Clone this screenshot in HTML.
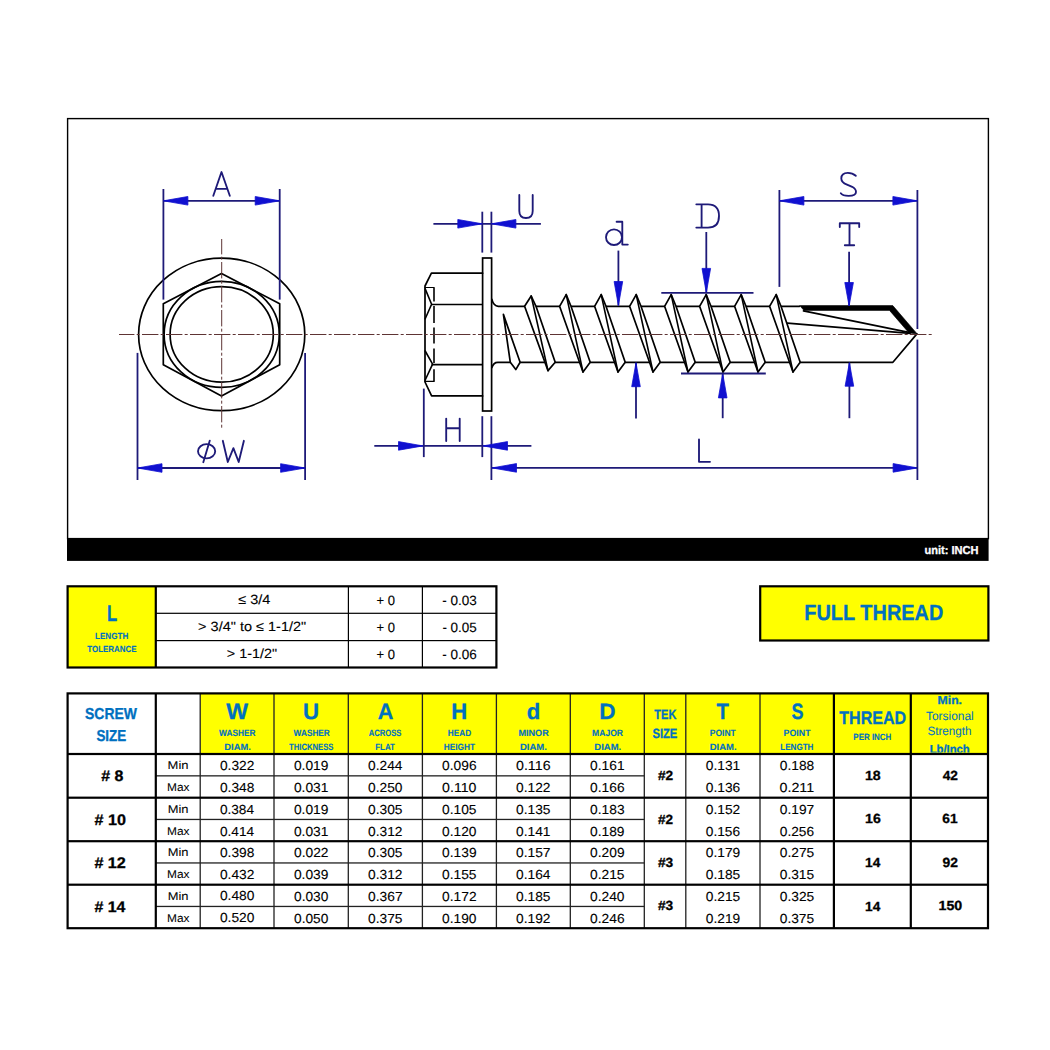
<!DOCTYPE html>
<html><head><meta charset="utf-8"><style>
html,body{margin:0;padding:0;background:#fff;width:1050px;height:1050px;overflow:hidden}
svg{position:absolute;left:0;top:0;display:block}
text{font-family:"Liberation Sans", sans-serif;text-rendering:geometricPrecision}
</style></head><body>
<svg width="1050" height="1050" viewBox="0 0 1050 1050">
<rect x="0" y="0" width="1050" height="1050" fill="#fff"/>
<rect x="67.6" y="118.6" width="920.8" height="420" fill="none" stroke="#000" stroke-width="1.4"/>
<rect x="67" y="538.3" width="921.6" height="22.6" fill="#000"/>
<ellipse cx="221.7" cy="334.4" rx="83.1" ry="76.3" fill="none" stroke="#000" stroke-width="1.7"/>
<polygon points="221.50,273.40 279.70,303.80 279.70,364.80 221.50,396.00 163.30,364.80 163.30,303.80" fill="none" stroke="#000" stroke-width="1.7" stroke-linejoin="round" />
<ellipse cx="221.7" cy="334.4" rx="57.6" ry="53.0" fill="none" stroke="#000" stroke-width="1.7"/>
<ellipse cx="221.7" cy="334.4" rx="51.6" ry="47.8" fill="none" stroke="#000" stroke-width="1.7"/>
<line x1="163.4" y1="189" x2="163.4" y2="299.6" stroke="#1e1a78" stroke-width="1.8" />
<line x1="279.7" y1="189" x2="279.7" y2="299.6" stroke="#1e1a78" stroke-width="1.8" />
<line x1="163.4" y1="200.8" x2="279.7" y2="200.8" stroke="#1e1a78" stroke-width="1.8" />
<polygon points="163.40,200.80 187.90,196.50 187.90,205.10" fill="#1010d0" stroke="#1010d0" stroke-width="0.8" stroke-linejoin="round" />
<polygon points="279.70,200.80 255.20,205.10 255.20,196.50" fill="#1010d0" stroke="#1010d0" stroke-width="0.8" stroke-linejoin="round" />
<line x1="137.5" y1="352.9" x2="137.5" y2="480" stroke="#1e1a78" stroke-width="1.8" />
<line x1="305.1" y1="352.9" x2="305.1" y2="480" stroke="#1e1a78" stroke-width="1.8" />
<line x1="137.5" y1="468" x2="305.1" y2="468" stroke="#1e1a78" stroke-width="1.8" />
<polygon points="137.50,468.00 162.00,463.70 162.00,472.30" fill="#1010d0" stroke="#1010d0" stroke-width="0.8" stroke-linejoin="round" />
<polygon points="305.10,468.00 280.60,472.30 280.60,463.70" fill="#1010d0" stroke="#1010d0" stroke-width="0.8" stroke-linejoin="round" />
<rect x="482.6" y="258" width="9.0" height="153" fill="#fff" stroke="#000" stroke-width="1.7"/>
<path d="M482.6,273.2 L431.4,273.2 L425,286 L425,382 L431.6,395.9 L482.6,395.9" fill="none" stroke="#000" stroke-width="1.7" stroke-linejoin="round" stroke-linecap="round" />
<line x1="431.4" y1="304.5" x2="482.6" y2="304.5" stroke="#000" stroke-width="1.7" />
<line x1="431.6" y1="364.7" x2="482.6" y2="364.7" stroke="#000" stroke-width="1.7" />
<path d="M425,287.5 L434,287.5" fill="none" stroke="#000" stroke-width="1.2" stroke-linejoin="round" stroke-linecap="round" />
<path d="M425,381.4 L434,381.4" fill="none" stroke="#000" stroke-width="1.2" stroke-linejoin="round" stroke-linecap="round" />
<line x1="434" y1="287.5" x2="434" y2="301.6" stroke="#000" stroke-width="1.6" />
<line x1="434" y1="306.1" x2="434" y2="322.9" stroke="#000" stroke-width="1.6" />
<line x1="434" y1="327.4" x2="434" y2="343.4" stroke="#000" stroke-width="1.6" />
<line x1="434" y1="348.6" x2="434" y2="363" stroke="#000" stroke-width="1.6" />
<line x1="434" y1="369.2" x2="434" y2="381.4" stroke="#000" stroke-width="1.6" />
<path d="M425.2,288.9 L431.6,304.3 L425.2,318.7" fill="none" stroke="#000" stroke-width="1.6" stroke-linejoin="round" stroke-linecap="round" />
<path d="M425.2,351 L432.6,364.2 L425.2,380" fill="none" stroke="#000" stroke-width="1.6" stroke-linejoin="round" stroke-linecap="round" />
<path d="M491.9,299.4 Q493.5,306 498.3,306.3 L799.4,306.3" fill="none" stroke="#000" stroke-width="1.7" stroke-linejoin="round" stroke-linecap="round" />
<path d="M491.9,367.6 Q493.5,362 498.3,362.3 L892.9,362.3 L916.9,333.9" fill="none" stroke="#000" stroke-width="1.7" stroke-linejoin="round" stroke-linecap="round" />
<polygon points="799.60,305.60 892.80,305.60 917.20,333.90 909.00,333.00 889.50,310.40 804.00,310.40" fill="#000" stroke="#000" stroke-width="0.6" stroke-linejoin="round" />
<path d="M803.5,310.8 L910,332.6" fill="none" stroke="#000" stroke-width="1.7" stroke-linejoin="round" stroke-linecap="round" />
<path d="M787.4,323.2 L910,333.4" fill="none" stroke="#000" stroke-width="1.7" stroke-linejoin="round" stroke-linecap="round" />
<polygon points="503.40,314.40 520.10,362.30 515.80,369.60 510.30,362.30" fill="#fff" stroke="#000" stroke-width="1.7" stroke-linejoin="round" />
<polygon points="524.60,306.30 531.20,296.00 536.00,306.30 555.20,362.30 548.00,370.60" fill="#fff" stroke="#000" stroke-width="1.7" stroke-linejoin="round" />
<path d="M531.2,296.0 L548.0,370.6" fill="none" stroke="#000" stroke-width="1.6" stroke-linejoin="round" stroke-linecap="round" />
<polygon points="559.60,306.30 566.20,294.60 571.00,306.30 590.20,362.30 583.00,372.00" fill="#fff" stroke="#000" stroke-width="1.7" stroke-linejoin="round" />
<path d="M566.2,294.6 L583.0,372.0" fill="none" stroke="#000" stroke-width="1.6" stroke-linejoin="round" stroke-linecap="round" />
<polygon points="594.60,306.30 601.20,294.60 606.00,306.30 625.20,362.30 618.00,372.00" fill="#fff" stroke="#000" stroke-width="1.7" stroke-linejoin="round" />
<path d="M601.2,294.6 L618.0,372.0" fill="none" stroke="#000" stroke-width="1.6" stroke-linejoin="round" stroke-linecap="round" />
<polygon points="629.60,306.30 636.20,294.60 641.00,306.30 660.20,362.30 653.00,372.00" fill="#fff" stroke="#000" stroke-width="1.7" stroke-linejoin="round" />
<path d="M636.2,294.6 L653.0,372.0" fill="none" stroke="#000" stroke-width="1.6" stroke-linejoin="round" stroke-linecap="round" />
<polygon points="664.60,306.30 671.20,294.60 676.00,306.30 695.20,362.30 688.00,372.00" fill="#fff" stroke="#000" stroke-width="1.7" stroke-linejoin="round" />
<path d="M671.2,294.6 L688.0,372.0" fill="none" stroke="#000" stroke-width="1.6" stroke-linejoin="round" stroke-linecap="round" />
<polygon points="699.60,306.30 706.20,294.60 711.00,306.30 730.20,362.30 723.00,372.00" fill="#fff" stroke="#000" stroke-width="1.7" stroke-linejoin="round" />
<path d="M706.2,294.6 L723.0,372.0" fill="none" stroke="#000" stroke-width="1.6" stroke-linejoin="round" stroke-linecap="round" />
<polygon points="734.60,306.30 741.20,294.60 746.00,306.30 765.20,362.30 758.00,372.00" fill="#fff" stroke="#000" stroke-width="1.7" stroke-linejoin="round" />
<path d="M741.2,294.6 L758.0,372.0" fill="none" stroke="#000" stroke-width="1.6" stroke-linejoin="round" stroke-linecap="round" />
<polygon points="769.60,306.30 776.20,294.60 781.00,306.30 800.20,362.30 793.00,372.00" fill="#fff" stroke="#000" stroke-width="1.7" stroke-linejoin="round" />
<path d="M776.2,294.6 L793.0,372.0" fill="none" stroke="#000" stroke-width="1.6" stroke-linejoin="round" stroke-linecap="round" />
<line x1="482.3" y1="211.7" x2="482.3" y2="252.6" stroke="#1e1a78" stroke-width="1.8" />
<line x1="491.4" y1="211.7" x2="491.4" y2="252.6" stroke="#1e1a78" stroke-width="1.8" />
<line x1="433.4" y1="223.8" x2="540.9" y2="223.8" stroke="#1e1a78" stroke-width="1.8" />
<polygon points="482.30,223.80 457.80,228.10 457.80,219.50" fill="#1010d0" stroke="#1010d0" stroke-width="0.8" stroke-linejoin="round" />
<polygon points="491.40,223.80 515.90,219.50 515.90,228.10" fill="#1010d0" stroke="#1010d0" stroke-width="0.8" stroke-linejoin="round" />
<line x1="423.8" y1="388.6" x2="423.8" y2="457.1" stroke="#1e1a78" stroke-width="1.8" />
<line x1="482.3" y1="416.2" x2="482.3" y2="457.1" stroke="#1e1a78" stroke-width="1.8" />
<line x1="491.4" y1="416.2" x2="491.4" y2="480" stroke="#1e1a78" stroke-width="1.8" />
<line x1="374.3" y1="445.9" x2="531.4" y2="445.9" stroke="#1e1a78" stroke-width="1.8" />
<polygon points="423.00,445.90 398.50,450.20 398.50,441.60" fill="#1010d0" stroke="#1010d0" stroke-width="0.8" stroke-linejoin="round" />
<polygon points="483.00,445.90 507.50,441.60 507.50,450.20" fill="#1010d0" stroke="#1010d0" stroke-width="0.8" stroke-linejoin="round" />
<line x1="491.4" y1="467.9" x2="917.6" y2="467.9" stroke="#1e1a78" stroke-width="1.8" />
<polygon points="492.00,467.90 516.50,463.60 516.50,472.20" fill="#1010d0" stroke="#1010d0" stroke-width="0.8" stroke-linejoin="round" />
<polygon points="917.60,467.90 893.10,472.20 893.10,463.60" fill="#1010d0" stroke="#1010d0" stroke-width="0.8" stroke-linejoin="round" />
<line x1="917.4" y1="190" x2="917.4" y2="329" stroke="#1e1a78" stroke-width="1.8" />
<line x1="917.4" y1="339.6" x2="917.4" y2="480" stroke="#1e1a78" stroke-width="1.8" />
<line x1="779.4" y1="190" x2="779.4" y2="286.9" stroke="#1e1a78" stroke-width="1.8" />
<line x1="779.4" y1="200.8" x2="917.4" y2="200.8" stroke="#1e1a78" stroke-width="1.8" />
<polygon points="779.40,200.80 803.90,196.50 803.90,205.10" fill="#1010d0" stroke="#1010d0" stroke-width="0.8" stroke-linejoin="round" />
<polygon points="917.40,200.80 892.90,205.10 892.90,196.50" fill="#1010d0" stroke="#1010d0" stroke-width="0.8" stroke-linejoin="round" />
<line x1="849.1" y1="251.7" x2="849.1" y2="306" stroke="#1e1a78" stroke-width="1.8" />
<polygon points="849.10,306.00 844.80,282.50 853.40,282.50" fill="#1010d0" stroke="#1010d0" stroke-width="0.8" stroke-linejoin="round" />
<line x1="849.4" y1="362.7" x2="849.4" y2="418.2" stroke="#1e1a78" stroke-width="1.8" />
<polygon points="849.40,362.70 853.70,386.20 845.10,386.20" fill="#1010d0" stroke="#1010d0" stroke-width="0.8" stroke-linejoin="round" />
<line x1="618.4" y1="250.6" x2="618.4" y2="305.5" stroke="#1e1a78" stroke-width="1.8" />
<polygon points="618.40,305.50 614.10,281.50 622.70,281.50" fill="#1010d0" stroke="#1010d0" stroke-width="0.8" stroke-linejoin="round" />
<line x1="636.0" y1="362.7" x2="636.0" y2="418.6" stroke="#1e1a78" stroke-width="1.8" />
<polygon points="636.00,362.70 640.30,386.70 631.70,386.70" fill="#1010d0" stroke="#1010d0" stroke-width="0.8" stroke-linejoin="round" />
<line x1="706.3" y1="232" x2="706.3" y2="292.8" stroke="#1e1a78" stroke-width="1.8" />
<polygon points="706.30,292.80 702.00,268.40 710.60,268.40" fill="#1010d0" stroke="#1010d0" stroke-width="0.8" stroke-linejoin="round" />
<line x1="661.3" y1="292.8" x2="753.5" y2="292.8" stroke="#1e1a78" stroke-width="1.8" />
<line x1="722.7" y1="373.5" x2="722.7" y2="418.2" stroke="#1e1a78" stroke-width="1.8" />
<polygon points="722.70,373.50 727.00,397.90 718.40,397.90" fill="#1010d0" stroke="#1010d0" stroke-width="0.8" stroke-linejoin="round" />
<line x1="681.0" y1="373.5" x2="765.8" y2="373.5" stroke="#1e1a78" stroke-width="1.8" />
<path d="M213.3,195.8 L221.5,172 L229.8,195.8 M216.6,188.8 L226.4,188.8" fill="none" stroke="#1e1a78" stroke-width="1.85" stroke-linejoin="round" stroke-linecap="round" />
<path d="M519.3,195 L519.3,211 Q519.3,218 526,218 Q532.7,218 532.7,211 L532.7,195" fill="none" stroke="#1e1a78" stroke-width="1.85" stroke-linejoin="round" stroke-linecap="round" />
<path d="M446.2,418.6 L446.2,441 M459.7,418.6 L459.7,441 M446.2,428.2 L459.7,428.2" fill="none" stroke="#1e1a78" stroke-width="1.85" stroke-linejoin="round" stroke-linecap="round" />
<path d="M699,439.5 L699,461.8 L710,461.8" fill="none" stroke="#1e1a78" stroke-width="1.85" stroke-linejoin="round" stroke-linecap="round" />
<path d="M855.8,175.8 Q852.5,172.8 847.8,172.8 Q841.3,172.8 841.3,178.4 Q841.3,182.3 847,184.6 L852.2,186.8 Q856,188.8 856,192 Q856,195.8 848.6,195.8 Q842.6,195.8 840.8,193.2" fill="none" stroke="#1e1a78" stroke-width="1.85" stroke-linejoin="round" stroke-linecap="round" />
<path d="M839.8,227 L839.8,223.2 L859.2,223.2 L859.2,227 M849.5,223.2 L849.5,245.2 M844.8,245.2 L854.2,245.2" fill="none" stroke="#1e1a78" stroke-width="1.85" stroke-linejoin="round" stroke-linecap="round" />
<path d="M616.6,221.7 L622.3,221.7 L622.3,244.6 L627.8,244.6" fill="none" stroke="#1e1a78" stroke-width="1.85" stroke-linejoin="round" stroke-linecap="round" />
<ellipse cx="614.0" cy="237.2" rx="8.0" ry="7.8" fill="none" stroke="#1e1a78" stroke-width="1.85"/>
<path d="M696.3,204.3 L708,204.3 Q719,204.3 719,216 Q719,227.6 708,227.6 L696.3,227.6 M701.6,204.3 L701.6,227.6" fill="none" stroke="#1e1a78" stroke-width="1.85" stroke-linejoin="round" stroke-linecap="round" />
<ellipse cx="206.6" cy="451.3" rx="8.6" ry="7.1" fill="none" stroke="#1e1a78" stroke-width="1.85"/>
<path d="M209.8,440.6 L203.3,462.2" fill="none" stroke="#1e1a78" stroke-width="1.85" stroke-linejoin="round" stroke-linecap="round" />
<path d="M222.8,440.8 L227.8,462 L233.4,448.2 L238.7,462 L243.9,440.8" fill="none" stroke="#1e1a78" stroke-width="1.85" stroke-linejoin="round" stroke-linecap="round" />
<line x1="119" y1="334.5" x2="933" y2="334.5" stroke="#5e3434" stroke-width="1.0" stroke-dasharray="16.4 2.3 3 2.3" stroke-dashoffset="1"/>
<line x1="221.7" y1="239" x2="221.7" y2="430" stroke="#5e3434" stroke-width="1.0" stroke-dasharray="16.4 2.3 3 2.3" stroke-dashoffset="1"/>
<rect x="67" y="586" width="89" height="82" fill="#ffff00"/>
<rect x="156" y="612.6999999999999" width="340" height="1.2" fill="#000"/>
<rect x="156" y="640.0" width="340" height="1.2" fill="#000"/>
<rect x="347.79999999999995" y="586" width="1.2" height="82" fill="#000"/>
<rect x="421.79999999999995" y="586" width="1.2" height="82" fill="#000"/>
<rect x="154.70000000000002" y="586" width="2.2" height="82" fill="#000"/>
<rect x="67.6" y="586.3" width="428.8" height="81.2" fill="none" stroke="#000" stroke-width="2.2"/>
<rect x="760.2" y="586.3" width="228.2" height="54.2" fill="#ffff00" stroke="#000" stroke-width="2.2"/>
<rect x="200.2" y="693.4" width="787.8" height="60.60000000000002" fill="#ffff00"/>
<rect x="155.8" y="775.2" width="488.49999999999994" height="1.3" fill="#222"/>
<rect x="155.8" y="818.8000000000001" width="488.49999999999994" height="1.3" fill="#222"/>
<rect x="155.8" y="862.3000000000001" width="488.49999999999994" height="1.3" fill="#222"/>
<rect x="155.8" y="905.8000000000001" width="488.49999999999994" height="1.3" fill="#222"/>
<rect x="199.54999999999998" y="693.4" width="1.3" height="234.80000000000007" fill="#222"/>
<rect x="273.35" y="693.4" width="1.3" height="234.80000000000007" fill="#222"/>
<rect x="347.65000000000003" y="693.4" width="1.3" height="234.80000000000007" fill="#222"/>
<rect x="421.75" y="693.4" width="1.3" height="234.80000000000007" fill="#222"/>
<rect x="495.75" y="693.4" width="1.3" height="234.80000000000007" fill="#222"/>
<rect x="569.65" y="693.4" width="1.3" height="234.80000000000007" fill="#222"/>
<rect x="643.65" y="693.4" width="1.3" height="234.80000000000007" fill="#222"/>
<rect x="685.15" y="693.4" width="1.3" height="234.80000000000007" fill="#222"/>
<rect x="759.35" y="693.4" width="1.3" height="234.80000000000007" fill="#222"/>
<rect x="154.70000000000002" y="693.4" width="2.2" height="234.80000000000007" fill="#000"/>
<rect x="832.8" y="693.4" width="2.2" height="234.80000000000007" fill="#000"/>
<rect x="909.6999999999999" y="693.4" width="2.2" height="234.80000000000007" fill="#000"/>
<rect x="67" y="752.9" width="921" height="2.2" fill="#000"/>
<rect x="67" y="796.6" width="921" height="2.2" fill="#000"/>
<rect x="67" y="840.1" width="921" height="2.2" fill="#000"/>
<rect x="67" y="883.6" width="921" height="2.2" fill="#000"/>
<rect x="67.6" y="693.4" width="920.4" height="234.80000000000007" fill="none" stroke="#000" stroke-width="2.2"/>
<clipPath id="hc"><rect x="911" y="694.5" width="77" height="58.1"/></clipPath>
<text x="951.45" y="554.00" font-size="11.59" font-weight="bold" fill="#fff" stroke="#fff" stroke-width="0.3" text-anchor="middle" textLength="53.99" lengthAdjust="spacingAndGlyphs">unit: INCH</text>
<text x="112.11" y="620.66" font-size="22.55" font-weight="bold" fill="#0070c0" stroke="#0070c0" stroke-width="0.3" text-anchor="middle" textLength="10.19" lengthAdjust="spacingAndGlyphs">L</text>
<text x="111.65" y="639.00" font-size="8.84" font-weight="bold" fill="#0070c0" stroke="#0070c0" stroke-width="0.12" text-anchor="middle" textLength="33.21" lengthAdjust="spacingAndGlyphs">LENGTH</text>
<text x="111.89" y="652.14" font-size="8.84" font-weight="bold" fill="#0070c0" stroke="#0070c0" stroke-width="0.12" text-anchor="middle" textLength="49.18" lengthAdjust="spacingAndGlyphs">TOLERANCE</text>
<text x="254.25" y="604.30" font-size="13.38" font-weight="normal" fill="#000" stroke="#000" stroke-width="0.12" text-anchor="middle" textLength="32.09" lengthAdjust="spacingAndGlyphs">≤ 3/4</text>
<text x="252.15" y="631.00" font-size="13.38" font-weight="normal" fill="#000" stroke="#000" stroke-width="0.12" text-anchor="middle" textLength="108.07" lengthAdjust="spacingAndGlyphs">&gt; 3/4" to ≤ 1-1/2"</text>
<text x="252.04" y="657.80" font-size="13.38" font-weight="normal" fill="#000" stroke="#000" stroke-width="0.12" text-anchor="middle" textLength="50.36" lengthAdjust="spacingAndGlyphs">&gt; 1-1/2"</text>
<text x="385.79" y="604.92" font-size="13.38" font-weight="normal" fill="#000" stroke="#000" stroke-width="0.12" text-anchor="middle" textLength="18.46" lengthAdjust="spacingAndGlyphs">+ 0</text>
<text x="459.56" y="605.03" font-size="13.38" font-weight="normal" fill="#000" stroke="#000" stroke-width="0.12" text-anchor="middle" textLength="34.49" lengthAdjust="spacingAndGlyphs">- 0.03</text>
<text x="385.79" y="631.58" font-size="13.38" font-weight="normal" fill="#000" stroke="#000" stroke-width="0.12" text-anchor="middle" textLength="18.46" lengthAdjust="spacingAndGlyphs">+ 0</text>
<text x="459.57" y="631.96" font-size="13.38" font-weight="normal" fill="#000" stroke="#000" stroke-width="0.12" text-anchor="middle" textLength="34.39" lengthAdjust="spacingAndGlyphs">- 0.05</text>
<text x="385.79" y="659.04" font-size="13.38" font-weight="normal" fill="#000" stroke="#000" stroke-width="0.12" text-anchor="middle" textLength="18.46" lengthAdjust="spacingAndGlyphs">+ 0</text>
<text x="459.56" y="658.67" font-size="13.38" font-weight="normal" fill="#000" stroke="#000" stroke-width="0.12" text-anchor="middle" textLength="34.50" lengthAdjust="spacingAndGlyphs">- 0.06</text>
<text x="873.84" y="620.40" font-size="21.98" font-weight="bold" fill="#0070c0" stroke="#0070c0" stroke-width="0.3" text-anchor="middle" textLength="139.00" lengthAdjust="spacingAndGlyphs">FULL THREAD</text>
<text x="111.05" y="718.88" font-size="15.85" font-weight="bold" fill="#0070c0" stroke="#0070c0" stroke-width="0.3" text-anchor="middle" textLength="51.96" lengthAdjust="spacingAndGlyphs">SCREW</text>
<text x="111.33" y="740.79" font-size="15.85" font-weight="bold" fill="#0070c0" stroke="#0070c0" stroke-width="0.3" text-anchor="middle" textLength="29.84" lengthAdjust="spacingAndGlyphs">SIZE</text>
<text x="237.05" y="718.64" font-size="22.19" font-weight="bold" fill="#0070c0" stroke="#0070c0" stroke-width="0.3" text-anchor="middle" textLength="21.81" lengthAdjust="spacingAndGlyphs">W</text>
<text x="310.98" y="718.52" font-size="22.19" font-weight="bold" fill="#0070c0" stroke="#0070c0" stroke-width="0.3" text-anchor="middle" textLength="16.07" lengthAdjust="spacingAndGlyphs">U</text>
<text x="385.51" y="718.96" font-size="22.19" font-weight="bold" fill="#0070c0" stroke="#0070c0" stroke-width="0.3" text-anchor="middle" textLength="15.66" lengthAdjust="spacingAndGlyphs">A</text>
<text x="459.26" y="718.80" font-size="22.19" font-weight="bold" fill="#0070c0" stroke="#0070c0" stroke-width="0.3" text-anchor="middle" textLength="15.97" lengthAdjust="spacingAndGlyphs">H</text>
<text x="533.58" y="718.71" font-size="22.19" font-weight="bold" fill="#0070c0" stroke="#0070c0" stroke-width="0.3" text-anchor="middle" textLength="13.54" lengthAdjust="spacingAndGlyphs">d</text>
<text x="607.32" y="718.64" font-size="22.19" font-weight="bold" fill="#0070c0" stroke="#0070c0" stroke-width="0.3" text-anchor="middle" textLength="16.28" lengthAdjust="spacingAndGlyphs">D</text>
<text x="722.64" y="718.64" font-size="22.19" font-weight="bold" fill="#0070c0" stroke="#0070c0" stroke-width="0.3" text-anchor="middle" textLength="12.44" lengthAdjust="spacingAndGlyphs">T</text>
<text x="797.40" y="718.64" font-size="22.19" font-weight="bold" fill="#0070c0" stroke="#0070c0" stroke-width="0.3" text-anchor="middle" textLength="12.02" lengthAdjust="spacingAndGlyphs">S</text>
<text x="237.23" y="736.26" font-size="9.15" font-weight="bold" fill="#0070c0" stroke="#0070c0" stroke-width="0.12" text-anchor="middle" textLength="36.34" lengthAdjust="spacingAndGlyphs">WASHER</text>
<text x="237.55" y="749.82" font-size="9.15" font-weight="bold" fill="#0070c0" stroke="#0070c0" stroke-width="0.12" text-anchor="middle" textLength="26.48" lengthAdjust="spacingAndGlyphs">DIAM.</text>
<text x="311.72" y="735.86" font-size="9.15" font-weight="bold" fill="#0070c0" stroke="#0070c0" stroke-width="0.12" text-anchor="middle" textLength="36.23" lengthAdjust="spacingAndGlyphs">WASHER</text>
<text x="311.22" y="749.82" font-size="9.15" font-weight="bold" fill="#0070c0" stroke="#0070c0" stroke-width="0.12" text-anchor="middle" textLength="44.35" lengthAdjust="spacingAndGlyphs">THICKNESS</text>
<text x="385.05" y="736.18" font-size="9.15" font-weight="bold" fill="#0070c0" stroke="#0070c0" stroke-width="0.12" text-anchor="middle" textLength="32.77" lengthAdjust="spacingAndGlyphs">ACROSS</text>
<text x="385.06" y="749.58" font-size="9.15" font-weight="bold" fill="#0070c0" stroke="#0070c0" stroke-width="0.12" text-anchor="middle" textLength="19.68" lengthAdjust="spacingAndGlyphs">FLAT</text>
<text x="459.40" y="736.42" font-size="9.15" font-weight="bold" fill="#0070c0" stroke="#0070c0" stroke-width="0.12" text-anchor="middle" textLength="23.39" lengthAdjust="spacingAndGlyphs">HEAD</text>
<text x="459.42" y="749.74" font-size="9.15" font-weight="bold" fill="#0070c0" stroke="#0070c0" stroke-width="0.12" text-anchor="middle" textLength="31.20" lengthAdjust="spacingAndGlyphs">HEIGHT</text>
<text x="533.57" y="736.26" font-size="9.15" font-weight="bold" fill="#0070c0" stroke="#0070c0" stroke-width="0.12" text-anchor="middle" textLength="30.35" lengthAdjust="spacingAndGlyphs">MINOR</text>
<text x="533.40" y="749.58" font-size="9.15" font-weight="bold" fill="#0070c0" stroke="#0070c0" stroke-width="0.12" text-anchor="middle" textLength="26.95" lengthAdjust="spacingAndGlyphs">DIAM.</text>
<text x="607.57" y="736.34" font-size="9.15" font-weight="bold" fill="#0070c0" stroke="#0070c0" stroke-width="0.12" text-anchor="middle" textLength="31.04" lengthAdjust="spacingAndGlyphs">MAJOR</text>
<text x="607.75" y="749.50" font-size="9.15" font-weight="bold" fill="#0070c0" stroke="#0070c0" stroke-width="0.12" text-anchor="middle" textLength="26.85" lengthAdjust="spacingAndGlyphs">DIAM.</text>
<text x="722.75" y="735.78" font-size="9.15" font-weight="bold" fill="#0070c0" stroke="#0070c0" stroke-width="0.12" text-anchor="middle" textLength="26.05" lengthAdjust="spacingAndGlyphs">POINT</text>
<text x="723.16" y="749.74" font-size="9.15" font-weight="bold" fill="#0070c0" stroke="#0070c0" stroke-width="0.12" text-anchor="middle" textLength="26.79" lengthAdjust="spacingAndGlyphs">DIAM.</text>
<text x="797.03" y="736.18" font-size="9.15" font-weight="bold" fill="#0070c0" stroke="#0070c0" stroke-width="0.12" text-anchor="middle" textLength="27.04" lengthAdjust="spacingAndGlyphs">POINT</text>
<text x="796.85" y="749.66" font-size="9.15" font-weight="bold" fill="#0070c0" stroke="#0070c0" stroke-width="0.12" text-anchor="middle" textLength="33.16" lengthAdjust="spacingAndGlyphs">LENGTH</text>
<text x="665.35" y="718.60" font-size="13.49" font-weight="bold" fill="#0070c0" stroke="#0070c0" stroke-width="0.3" text-anchor="middle" textLength="22.10" lengthAdjust="spacingAndGlyphs">TEK</text>
<text x="664.89" y="738.37" font-size="13.49" font-weight="bold" fill="#0070c0" stroke="#0070c0" stroke-width="0.3" text-anchor="middle" textLength="24.99" lengthAdjust="spacingAndGlyphs">SIZE</text>
<text x="872.76" y="724.12" font-size="18.20" font-weight="bold" fill="#0070c0" stroke="#0070c0" stroke-width="0.3" text-anchor="middle" textLength="66.87" lengthAdjust="spacingAndGlyphs">THREAD</text>
<text x="872.34" y="740.00" font-size="8.95" font-weight="bold" fill="#0070c0" stroke="#0070c0" stroke-width="0.12" text-anchor="middle" textLength="37.98" lengthAdjust="spacingAndGlyphs">PER INCH</text>
<text x="949.79" y="704.08" font-size="11.59" font-weight="bold" fill="#0070c0" stroke="#0070c0" stroke-width="0.3" text-anchor="middle" textLength="24.42" lengthAdjust="spacingAndGlyphs">Min.</text>
<text x="949.89" y="719.83" font-size="12.05" font-weight="normal" fill="#0070c0" stroke="#0070c0" stroke-width="0.05" text-anchor="middle" textLength="47.78" lengthAdjust="spacingAndGlyphs">Torsional</text>
<text x="949.52" y="735.40" font-size="12.05" font-weight="normal" fill="#0070c0" stroke="#0070c0" stroke-width="0.05" text-anchor="middle" textLength="44.13" lengthAdjust="spacingAndGlyphs">Strength</text>
<text x="949.67" y="753.20" font-size="11.59" font-weight="bold" fill="#0070c0" stroke="#0070c0" stroke-width="0.3" text-anchor="middle" textLength="40.07" lengthAdjust="spacingAndGlyphs" clip-path="url(#hc)">Lb/Inch</text>
<text x="112.37" y="781.25" font-size="15.34" font-weight="bold" fill="#000" stroke="#000" stroke-width="0.3" text-anchor="middle" textLength="22.19" lengthAdjust="spacingAndGlyphs"># 8</text>
<text x="178.09" y="769.20" font-size="11.42" font-weight="normal" fill="#000" stroke="#000" stroke-width="0.05" text-anchor="middle" textLength="20.99" lengthAdjust="spacingAndGlyphs">Min</text>
<text x="178.34" y="791.23" font-size="11.42" font-weight="normal" fill="#000" stroke="#000" stroke-width="0.05" text-anchor="middle" textLength="22.48" lengthAdjust="spacingAndGlyphs">Max</text>
<text x="237.17" y="769.94" font-size="13.13" font-weight="normal" fill="#000" stroke="#000" stroke-width="0.12" text-anchor="middle" textLength="34.47" lengthAdjust="spacingAndGlyphs">0.322</text>
<text x="311.19" y="769.92" font-size="13.13" font-weight="normal" fill="#000" stroke="#000" stroke-width="0.12" text-anchor="middle" textLength="34.53" lengthAdjust="spacingAndGlyphs">0.019</text>
<text x="385.26" y="769.61" font-size="13.13" font-weight="normal" fill="#000" stroke="#000" stroke-width="0.12" text-anchor="middle" textLength="34.35" lengthAdjust="spacingAndGlyphs">0.244</text>
<text x="459.35" y="769.77" font-size="13.13" font-weight="normal" fill="#000" stroke="#000" stroke-width="0.12" text-anchor="middle" textLength="34.47" lengthAdjust="spacingAndGlyphs">0.096</text>
<text x="533.29" y="770.01" font-size="13.13" font-weight="normal" fill="#000" stroke="#000" stroke-width="0.12" text-anchor="middle" textLength="34.53" lengthAdjust="spacingAndGlyphs">0.116</text>
<text x="607.34" y="769.58" font-size="13.13" font-weight="normal" fill="#000" stroke="#000" stroke-width="0.12" text-anchor="middle" textLength="34.50" lengthAdjust="spacingAndGlyphs">0.161</text>
<text x="723.04" y="769.71" font-size="13.13" font-weight="normal" fill="#000" stroke="#000" stroke-width="0.12" text-anchor="middle" textLength="34.47" lengthAdjust="spacingAndGlyphs">0.131</text>
<text x="797.03" y="769.71" font-size="13.13" font-weight="normal" fill="#000" stroke="#000" stroke-width="0.12" text-anchor="middle" textLength="34.45" lengthAdjust="spacingAndGlyphs">0.188</text>
<text x="237.15" y="791.72" font-size="13.13" font-weight="normal" fill="#000" stroke="#000" stroke-width="0.12" text-anchor="middle" textLength="34.44" lengthAdjust="spacingAndGlyphs">0.348</text>
<text x="311.19" y="791.70" font-size="13.13" font-weight="normal" fill="#000" stroke="#000" stroke-width="0.12" text-anchor="middle" textLength="34.53" lengthAdjust="spacingAndGlyphs">0.031</text>
<text x="385.28" y="791.90" font-size="13.13" font-weight="normal" fill="#000" stroke="#000" stroke-width="0.12" text-anchor="middle" textLength="34.39" lengthAdjust="spacingAndGlyphs">0.250</text>
<text x="459.32" y="791.77" font-size="13.13" font-weight="normal" fill="#000" stroke="#000" stroke-width="0.12" text-anchor="middle" textLength="34.36" lengthAdjust="spacingAndGlyphs">0.110</text>
<text x="533.31" y="791.95" font-size="13.13" font-weight="normal" fill="#000" stroke="#000" stroke-width="0.12" text-anchor="middle" textLength="34.46" lengthAdjust="spacingAndGlyphs">0.122</text>
<text x="607.36" y="791.86" font-size="13.13" font-weight="normal" fill="#000" stroke="#000" stroke-width="0.12" text-anchor="middle" textLength="34.46" lengthAdjust="spacingAndGlyphs">0.166</text>
<text x="723.04" y="791.97" font-size="13.13" font-weight="normal" fill="#000" stroke="#000" stroke-width="0.12" text-anchor="middle" textLength="34.49" lengthAdjust="spacingAndGlyphs">0.136</text>
<text x="796.81" y="791.99" font-size="13.13" font-weight="normal" fill="#000" stroke="#000" stroke-width="0.12" text-anchor="middle" textLength="34.68" lengthAdjust="spacingAndGlyphs">0.211</text>
<text x="665.56" y="780.00" font-size="13.23" font-weight="bold" fill="#000" stroke="#000" stroke-width="0.3" text-anchor="middle" textLength="15.23" lengthAdjust="spacingAndGlyphs">#2</text>
<text x="872.82" y="779.81" font-size="13.23" font-weight="bold" fill="#000" stroke="#000" stroke-width="0.3" text-anchor="middle" textLength="15.74" lengthAdjust="spacingAndGlyphs">18</text>
<text x="950.27" y="780.00" font-size="13.23" font-weight="bold" fill="#000" stroke="#000" stroke-width="0.3" text-anchor="middle" textLength="15.22" lengthAdjust="spacingAndGlyphs">42</text>
<text x="110.20" y="824.96" font-size="15.34" font-weight="bold" fill="#000" stroke="#000" stroke-width="0.3" text-anchor="middle" textLength="31.44" lengthAdjust="spacingAndGlyphs"># 10</text>
<text x="178.12" y="812.86" font-size="11.42" font-weight="normal" fill="#000" stroke="#000" stroke-width="0.05" text-anchor="middle" textLength="20.81" lengthAdjust="spacingAndGlyphs">Min</text>
<text x="178.34" y="834.85" font-size="11.42" font-weight="normal" fill="#000" stroke="#000" stroke-width="0.05" text-anchor="middle" textLength="22.48" lengthAdjust="spacingAndGlyphs">Max</text>
<text x="236.99" y="813.78" font-size="13.13" font-weight="normal" fill="#000" stroke="#000" stroke-width="0.12" text-anchor="middle" textLength="34.18" lengthAdjust="spacingAndGlyphs">0.384</text>
<text x="311.19" y="813.78" font-size="13.13" font-weight="normal" fill="#000" stroke="#000" stroke-width="0.12" text-anchor="middle" textLength="34.53" lengthAdjust="spacingAndGlyphs">0.019</text>
<text x="385.30" y="813.77" font-size="13.13" font-weight="normal" fill="#000" stroke="#000" stroke-width="0.12" text-anchor="middle" textLength="34.43" lengthAdjust="spacingAndGlyphs">0.305</text>
<text x="459.32" y="813.84" font-size="13.13" font-weight="normal" fill="#000" stroke="#000" stroke-width="0.12" text-anchor="middle" textLength="34.49" lengthAdjust="spacingAndGlyphs">0.105</text>
<text x="533.30" y="813.82" font-size="13.13" font-weight="normal" fill="#000" stroke="#000" stroke-width="0.12" text-anchor="middle" textLength="34.43" lengthAdjust="spacingAndGlyphs">0.135</text>
<text x="607.34" y="813.78" font-size="13.13" font-weight="normal" fill="#000" stroke="#000" stroke-width="0.12" text-anchor="middle" textLength="34.41" lengthAdjust="spacingAndGlyphs">0.183</text>
<text x="723.05" y="813.76" font-size="13.13" font-weight="normal" fill="#000" stroke="#000" stroke-width="0.12" text-anchor="middle" textLength="34.49" lengthAdjust="spacingAndGlyphs">0.152</text>
<text x="797.05" y="813.75" font-size="13.13" font-weight="normal" fill="#000" stroke="#000" stroke-width="0.12" text-anchor="middle" textLength="34.49" lengthAdjust="spacingAndGlyphs">0.197</text>
<text x="237.06" y="835.51" font-size="13.13" font-weight="normal" fill="#000" stroke="#000" stroke-width="0.12" text-anchor="middle" textLength="34.14" lengthAdjust="spacingAndGlyphs">0.414</text>
<text x="311.19" y="835.56" font-size="13.13" font-weight="normal" fill="#000" stroke="#000" stroke-width="0.12" text-anchor="middle" textLength="34.53" lengthAdjust="spacingAndGlyphs">0.031</text>
<text x="385.31" y="835.69" font-size="13.13" font-weight="normal" fill="#000" stroke="#000" stroke-width="0.12" text-anchor="middle" textLength="34.46" lengthAdjust="spacingAndGlyphs">0.312</text>
<text x="459.31" y="835.68" font-size="13.13" font-weight="normal" fill="#000" stroke="#000" stroke-width="0.12" text-anchor="middle" textLength="34.44" lengthAdjust="spacingAndGlyphs">0.120</text>
<text x="533.29" y="835.73" font-size="13.13" font-weight="normal" fill="#000" stroke="#000" stroke-width="0.12" text-anchor="middle" textLength="34.41" lengthAdjust="spacingAndGlyphs">0.141</text>
<text x="607.32" y="835.61" font-size="13.13" font-weight="normal" fill="#000" stroke="#000" stroke-width="0.12" text-anchor="middle" textLength="34.49" lengthAdjust="spacingAndGlyphs">0.189</text>
<text x="722.96" y="835.92" font-size="13.13" font-weight="normal" fill="#000" stroke="#000" stroke-width="0.12" text-anchor="middle" textLength="34.37" lengthAdjust="spacingAndGlyphs">0.156</text>
<text x="796.96" y="835.92" font-size="13.13" font-weight="normal" fill="#000" stroke="#000" stroke-width="0.12" text-anchor="middle" textLength="34.37" lengthAdjust="spacingAndGlyphs">0.256</text>
<text x="665.51" y="823.60" font-size="13.23" font-weight="bold" fill="#000" stroke="#000" stroke-width="0.3" text-anchor="middle" textLength="15.04" lengthAdjust="spacingAndGlyphs">#2</text>
<text x="872.90" y="823.20" font-size="13.23" font-weight="bold" fill="#000" stroke="#000" stroke-width="0.3" text-anchor="middle" textLength="15.73" lengthAdjust="spacingAndGlyphs">16</text>
<text x="950.05" y="823.14" font-size="13.23" font-weight="bold" fill="#000" stroke="#000" stroke-width="0.3" text-anchor="middle" textLength="15.32" lengthAdjust="spacingAndGlyphs">61</text>
<text x="110.12" y="868.25" font-size="15.34" font-weight="bold" fill="#000" stroke="#000" stroke-width="0.3" text-anchor="middle" textLength="31.49" lengthAdjust="spacingAndGlyphs"># 12</text>
<text x="178.12" y="856.36" font-size="11.42" font-weight="normal" fill="#000" stroke="#000" stroke-width="0.05" text-anchor="middle" textLength="20.81" lengthAdjust="spacingAndGlyphs">Min</text>
<text x="178.33" y="877.84" font-size="11.42" font-weight="normal" fill="#000" stroke="#000" stroke-width="0.05" text-anchor="middle" textLength="22.48" lengthAdjust="spacingAndGlyphs">Max</text>
<text x="237.15" y="857.29" font-size="13.13" font-weight="normal" fill="#000" stroke="#000" stroke-width="0.12" text-anchor="middle" textLength="34.44" lengthAdjust="spacingAndGlyphs">0.398</text>
<text x="311.24" y="857.27" font-size="13.13" font-weight="normal" fill="#000" stroke="#000" stroke-width="0.12" text-anchor="middle" textLength="34.55" lengthAdjust="spacingAndGlyphs">0.022</text>
<text x="385.28" y="857.25" font-size="13.13" font-weight="normal" fill="#000" stroke="#000" stroke-width="0.12" text-anchor="middle" textLength="34.40" lengthAdjust="spacingAndGlyphs">0.305</text>
<text x="459.35" y="857.28" font-size="13.13" font-weight="normal" fill="#000" stroke="#000" stroke-width="0.12" text-anchor="middle" textLength="34.43" lengthAdjust="spacingAndGlyphs">0.139</text>
<text x="533.31" y="857.29" font-size="13.13" font-weight="normal" fill="#000" stroke="#000" stroke-width="0.12" text-anchor="middle" textLength="34.46" lengthAdjust="spacingAndGlyphs">0.157</text>
<text x="607.35" y="857.28" font-size="13.13" font-weight="normal" fill="#000" stroke="#000" stroke-width="0.12" text-anchor="middle" textLength="34.43" lengthAdjust="spacingAndGlyphs">0.209</text>
<text x="723.04" y="857.26" font-size="13.13" font-weight="normal" fill="#000" stroke="#000" stroke-width="0.12" text-anchor="middle" textLength="34.48" lengthAdjust="spacingAndGlyphs">0.179</text>
<text x="797.03" y="857.26" font-size="13.13" font-weight="normal" fill="#000" stroke="#000" stroke-width="0.12" text-anchor="middle" textLength="34.45" lengthAdjust="spacingAndGlyphs">0.275</text>
<text x="237.17" y="879.13" font-size="13.13" font-weight="normal" fill="#000" stroke="#000" stroke-width="0.12" text-anchor="middle" textLength="34.47" lengthAdjust="spacingAndGlyphs">0.432</text>
<text x="311.19" y="879.06" font-size="13.13" font-weight="normal" fill="#000" stroke="#000" stroke-width="0.12" text-anchor="middle" textLength="34.53" lengthAdjust="spacingAndGlyphs">0.039</text>
<text x="385.31" y="878.98" font-size="13.13" font-weight="normal" fill="#000" stroke="#000" stroke-width="0.12" text-anchor="middle" textLength="34.46" lengthAdjust="spacingAndGlyphs">0.312</text>
<text x="459.32" y="879.12" font-size="13.13" font-weight="normal" fill="#000" stroke="#000" stroke-width="0.12" text-anchor="middle" textLength="34.49" lengthAdjust="spacingAndGlyphs">0.155</text>
<text x="533.26" y="878.83" font-size="13.13" font-weight="normal" fill="#000" stroke="#000" stroke-width="0.12" text-anchor="middle" textLength="34.35" lengthAdjust="spacingAndGlyphs">0.164</text>
<text x="607.32" y="879.12" font-size="13.13" font-weight="normal" fill="#000" stroke="#000" stroke-width="0.12" text-anchor="middle" textLength="34.49" lengthAdjust="spacingAndGlyphs">0.215</text>
<text x="723.03" y="879.49" font-size="13.13" font-weight="normal" fill="#000" stroke="#000" stroke-width="0.12" text-anchor="middle" textLength="34.45" lengthAdjust="spacingAndGlyphs">0.185</text>
<text x="796.98" y="879.00" font-size="13.13" font-weight="normal" fill="#000" stroke="#000" stroke-width="0.12" text-anchor="middle" textLength="34.41" lengthAdjust="spacingAndGlyphs">0.315</text>
<text x="665.56" y="867.05" font-size="13.23" font-weight="bold" fill="#000" stroke="#000" stroke-width="0.3" text-anchor="middle" textLength="15.23" lengthAdjust="spacingAndGlyphs">#3</text>
<text x="872.67" y="867.26" font-size="13.23" font-weight="bold" fill="#000" stroke="#000" stroke-width="0.3" text-anchor="middle" textLength="15.22" lengthAdjust="spacingAndGlyphs">14</text>
<text x="950.17" y="866.81" font-size="13.23" font-weight="bold" fill="#000" stroke="#000" stroke-width="0.3" text-anchor="middle" textLength="15.43" lengthAdjust="spacingAndGlyphs">92</text>
<text x="109.94" y="911.95" font-size="15.34" font-weight="bold" fill="#000" stroke="#000" stroke-width="0.3" text-anchor="middle" textLength="31.02" lengthAdjust="spacingAndGlyphs"># 14</text>
<text x="178.12" y="899.86" font-size="11.42" font-weight="normal" fill="#000" stroke="#000" stroke-width="0.05" text-anchor="middle" textLength="20.81" lengthAdjust="spacingAndGlyphs">Min</text>
<text x="178.34" y="921.85" font-size="11.42" font-weight="normal" fill="#000" stroke="#000" stroke-width="0.05" text-anchor="middle" textLength="22.48" lengthAdjust="spacingAndGlyphs">Max</text>
<text x="237.20" y="900.41" font-size="13.13" font-weight="normal" fill="#000" stroke="#000" stroke-width="0.12" text-anchor="middle" textLength="34.48" lengthAdjust="spacingAndGlyphs">0.480</text>
<text x="311.23" y="900.73" font-size="13.13" font-weight="normal" fill="#000" stroke="#000" stroke-width="0.12" text-anchor="middle" textLength="34.29" lengthAdjust="spacingAndGlyphs">0.030</text>
<text x="385.33" y="900.76" font-size="13.13" font-weight="normal" fill="#000" stroke="#000" stroke-width="0.12" text-anchor="middle" textLength="34.50" lengthAdjust="spacingAndGlyphs">0.367</text>
<text x="459.37" y="900.84" font-size="13.13" font-weight="normal" fill="#000" stroke="#000" stroke-width="0.12" text-anchor="middle" textLength="34.51" lengthAdjust="spacingAndGlyphs">0.172</text>
<text x="533.30" y="900.82" font-size="13.13" font-weight="normal" fill="#000" stroke="#000" stroke-width="0.12" text-anchor="middle" textLength="34.43" lengthAdjust="spacingAndGlyphs">0.185</text>
<text x="607.30" y="900.80" font-size="13.13" font-weight="normal" fill="#000" stroke="#000" stroke-width="0.12" text-anchor="middle" textLength="34.45" lengthAdjust="spacingAndGlyphs">0.240</text>
<text x="723.03" y="900.76" font-size="13.13" font-weight="normal" fill="#000" stroke="#000" stroke-width="0.12" text-anchor="middle" textLength="34.45" lengthAdjust="spacingAndGlyphs">0.215</text>
<text x="797.03" y="900.76" font-size="13.13" font-weight="normal" fill="#000" stroke="#000" stroke-width="0.12" text-anchor="middle" textLength="34.45" lengthAdjust="spacingAndGlyphs">0.325</text>
<text x="237.20" y="922.28" font-size="13.13" font-weight="normal" fill="#000" stroke="#000" stroke-width="0.12" text-anchor="middle" textLength="34.48" lengthAdjust="spacingAndGlyphs">0.520</text>
<text x="311.23" y="922.99" font-size="13.13" font-weight="normal" fill="#000" stroke="#000" stroke-width="0.12" text-anchor="middle" textLength="34.29" lengthAdjust="spacingAndGlyphs">0.050</text>
<text x="385.28" y="922.69" font-size="13.13" font-weight="normal" fill="#000" stroke="#000" stroke-width="0.12" text-anchor="middle" textLength="34.40" lengthAdjust="spacingAndGlyphs">0.375</text>
<text x="459.31" y="922.68" font-size="13.13" font-weight="normal" fill="#000" stroke="#000" stroke-width="0.12" text-anchor="middle" textLength="34.44" lengthAdjust="spacingAndGlyphs">0.190</text>
<text x="533.31" y="922.73" font-size="13.13" font-weight="normal" fill="#000" stroke="#000" stroke-width="0.12" text-anchor="middle" textLength="34.46" lengthAdjust="spacingAndGlyphs">0.192</text>
<text x="607.34" y="922.70" font-size="13.13" font-weight="normal" fill="#000" stroke="#000" stroke-width="0.12" text-anchor="middle" textLength="34.50" lengthAdjust="spacingAndGlyphs">0.246</text>
<text x="723.02" y="922.91" font-size="13.13" font-weight="normal" fill="#000" stroke="#000" stroke-width="0.12" text-anchor="middle" textLength="34.49" lengthAdjust="spacingAndGlyphs">0.219</text>
<text x="796.98" y="922.90" font-size="13.13" font-weight="normal" fill="#000" stroke="#000" stroke-width="0.12" text-anchor="middle" textLength="34.41" lengthAdjust="spacingAndGlyphs">0.375</text>
<text x="665.56" y="910.15" font-size="13.23" font-weight="bold" fill="#000" stroke="#000" stroke-width="0.3" text-anchor="middle" textLength="15.23" lengthAdjust="spacingAndGlyphs">#3</text>
<text x="872.67" y="910.76" font-size="13.23" font-weight="bold" fill="#000" stroke="#000" stroke-width="0.3" text-anchor="middle" textLength="15.22" lengthAdjust="spacingAndGlyphs">14</text>
<text x="950.37" y="910.25" font-size="13.23" font-weight="bold" fill="#000" stroke="#000" stroke-width="0.3" text-anchor="middle" textLength="23.69" lengthAdjust="spacingAndGlyphs">150</text>
</svg>
</body></html>
